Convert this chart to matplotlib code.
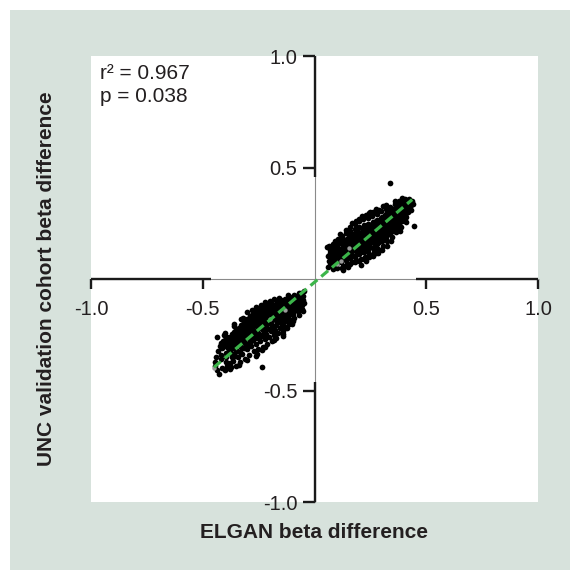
import matplotlib
matplotlib.use("Agg")
import matplotlib.pyplot as plt
from matplotlib.patches import Rectangle

plt.rcParams['font.family'] = ['Liberation Sans', 'DejaVu Sans']

# ---------------- data ----------------
upper_x = [
    0.062, 0.065, 0.061, 0.068, 0.064, 0.070, 0.072, 0.069, 0.058,
    0.082, 0.085, 0.079, 0.088, 0.084, 0.090, 0.087, 0.092, 0.081,
    0.100, 0.104, 0.098, 0.107, 0.102, 0.110, 0.112, 0.108, 0.105, 0.101,
    0.120, 0.123, 0.118, 0.127, 0.124, 0.130, 0.132, 0.128, 0.121, 0.133, 0.126,
    0.140, 0.143, 0.138, 0.147, 0.144, 0.150, 0.152, 0.148, 0.141, 0.153, 0.146, 0.155,
    0.160, 0.163, 0.158, 0.167, 0.164, 0.170, 0.172, 0.168, 0.161, 0.173, 0.166, 0.175, 0.159,
    0.180, 0.183, 0.178, 0.187, 0.184, 0.190, 0.192, 0.188, 0.181, 0.193, 0.186, 0.195, 0.179,
    0.200, 0.203, 0.198, 0.207, 0.204, 0.210, 0.212, 0.208, 0.201, 0.213, 0.206, 0.215, 0.199,
    0.220, 0.223, 0.218, 0.227, 0.224, 0.230, 0.232, 0.228, 0.221, 0.233, 0.226, 0.235, 0.219,
    0.240, 0.243, 0.238, 0.247, 0.244, 0.250, 0.252, 0.248, 0.241, 0.253, 0.246, 0.255, 0.239, 0.245,
    0.260, 0.263, 0.258, 0.267, 0.264, 0.270, 0.272, 0.268, 0.261, 0.273, 0.266, 0.275, 0.259,
    0.280, 0.283, 0.278, 0.287, 0.284, 0.290, 0.292, 0.288, 0.281, 0.293, 0.286, 0.295, 0.279,
    0.300, 0.303, 0.298, 0.307, 0.304, 0.310, 0.312, 0.308, 0.301, 0.313, 0.306, 0.315, 0.299,
    0.320, 0.323, 0.318, 0.327, 0.324, 0.330, 0.332, 0.328, 0.321, 0.333, 0.326, 0.335, 0.319,
    0.340, 0.343, 0.338, 0.347, 0.344, 0.350, 0.352, 0.348, 0.341, 0.353, 0.346, 0.355, 0.339,
    0.360, 0.363, 0.358, 0.367, 0.364, 0.370, 0.372, 0.368, 0.361, 0.373, 0.366, 0.375, 0.360,
    0.380, 0.383, 0.378, 0.387, 0.384, 0.390, 0.392, 0.388, 0.381, 0.393, 0.386, 0.395, 0.380,
    0.400, 0.403, 0.398, 0.407, 0.404, 0.410, 0.412, 0.408, 0.401, 0.413, 0.406,
    0.420, 0.423, 0.418, 0.427, 0.424, 0.430, 0.432, 0.428, 0.436, 0.440,
    0.337, 0.447, 0.206, 0.150, 0.230, 0.275,
    # in-between points of the dense core
    0.074, 0.077, 0.076, 0.095, 0.094, 0.097, 0.114, 0.116, 0.113,
    0.135, 0.134, 0.137, 0.156, 0.154, 0.157, 0.175, 0.176, 0.174,
    0.195, 0.196, 0.194, 0.216, 0.214, 0.217, 0.235, 0.236, 0.234,
    0.256, 0.254, 0.257, 0.275, 0.276, 0.274, 0.296, 0.294, 0.297,
    0.315, 0.316, 0.314, 0.336, 0.334, 0.337, 0.355, 0.356, 0.354,
    0.376, 0.374, 0.377, 0.395, 0.396, 0.394, 0.416, 0.414,
    # scattered edge points
    0.170, 0.200, 0.230, 0.262, 0.290, 0.322, 0.358, 0.390, 0.142, 0.112,
    0.140, 0.180, 0.222, 0.262, 0.302, 0.342, 0.382, 0.411, 0.121,
    0.186, 0.214, 0.248, 0.276, 0.308, 0.092, 0.128, 0.160, 0.198, 0.245, 0.285, 0.325,
]
upper_y = [
    0.055, 0.080, 0.105, 0.130, 0.150, 0.065, 0.095, 0.118, 0.142,
    0.060, 0.090, 0.112, 0.138, 0.158, 0.075, 0.102, 0.125, 0.045,
    0.070, 0.095, 0.118, 0.140, 0.165, 0.083, 0.108, 0.128, 0.180, 0.050,
    0.075, 0.100, 0.122, 0.148, 0.172, 0.090, 0.113, 0.135, 0.192, 0.160, 0.060,
    0.085, 0.110, 0.130, 0.155, 0.180, 0.100, 0.123, 0.142, 0.205, 0.168, 0.070, 0.192,
    0.095, 0.120, 0.140, 0.165, 0.190, 0.108, 0.132, 0.152, 0.215, 0.178, 0.078, 0.202, 0.235,
    0.100, 0.128, 0.150, 0.172, 0.198, 0.115, 0.140, 0.160, 0.225, 0.185, 0.085, 0.212, 0.248,
    0.110, 0.135, 0.158, 0.180, 0.205, 0.123, 0.148, 0.168, 0.232, 0.192, 0.090, 0.218, 0.258,
    0.120, 0.145, 0.165, 0.188, 0.212, 0.133, 0.157, 0.176, 0.240, 0.200, 0.100, 0.226, 0.268,
    0.130, 0.155, 0.175, 0.197, 0.220, 0.143, 0.167, 0.185, 0.246, 0.208, 0.112, 0.234, 0.275, 0.298,
    0.140, 0.165, 0.185, 0.206, 0.230, 0.153, 0.177, 0.195, 0.255, 0.218, 0.120, 0.244, 0.284,
    0.155, 0.178, 0.198, 0.218, 0.242, 0.167, 0.190, 0.208, 0.265, 0.230, 0.135, 0.256, 0.290,
    0.170, 0.193, 0.212, 0.232, 0.256, 0.182, 0.205, 0.222, 0.278, 0.244, 0.150, 0.268, 0.305,
    0.190, 0.210, 0.228, 0.248, 0.270, 0.200, 0.220, 0.238, 0.292, 0.258, 0.172, 0.280, 0.315,
    0.205, 0.226, 0.244, 0.262, 0.284, 0.216, 0.236, 0.253, 0.304, 0.272, 0.190, 0.293, 0.325,
    0.225, 0.245, 0.262, 0.280, 0.300, 0.235, 0.255, 0.270, 0.320, 0.290, 0.210, 0.310, 0.337,
    0.245, 0.265, 0.280, 0.298, 0.316, 0.258, 0.276, 0.290, 0.335, 0.306, 0.232, 0.325, 0.352,
    0.270, 0.288, 0.302, 0.318, 0.335, 0.280, 0.300, 0.312, 0.350, 0.325, 0.360,
    0.300, 0.318, 0.332, 0.345, 0.358, 0.310, 0.330, 0.340, 0.352, 0.335,
    0.430, 0.239, 0.063, 0.055, 0.080, 0.118,
    0.072, 0.100, 0.135, 0.088, 0.115, 0.150, 0.098, 0.128, 0.163,
    0.110, 0.140, 0.175, 0.122, 0.152, 0.187, 0.135, 0.165, 0.200,
    0.148, 0.178, 0.213, 0.160, 0.190, 0.225, 0.170, 0.200, 0.235,
    0.183, 0.213, 0.248, 0.195, 0.225, 0.260, 0.210, 0.240, 0.273,
    0.225, 0.255, 0.288, 0.240, 0.270, 0.302, 0.255, 0.285, 0.316,
    0.270, 0.300, 0.330, 0.285, 0.315, 0.342, 0.305, 0.335,
    0.250, 0.270, 0.285, 0.300, 0.310, 0.330, 0.350, 0.365, 0.220, 0.200,
    0.060, 0.075, 0.090, 0.105, 0.130, 0.170, 0.215, 0.255, 0.050,
    0.262, 0.282, 0.300, 0.312, 0.326, 0.172, 0.042, 0.068, 0.082, 0.098, 0.118, 0.150,
]

lower_x = [
    -0.048, -0.052, -0.050, -0.055, -0.058, -0.060, -0.062, -0.047, -0.053,
    -0.070, -0.073, -0.068, -0.077, -0.074, -0.080, -0.082, -0.078, -0.071, -0.079,
    -0.090, -0.093, -0.088, -0.097, -0.094, -0.100, -0.102, -0.098, -0.091, -0.099, -0.095,
    -0.110, -0.113, -0.108, -0.117, -0.114, -0.120, -0.122, -0.118, -0.111, -0.119, -0.115, -0.123,
    -0.130, -0.133, -0.128, -0.137, -0.134, -0.140, -0.142, -0.138, -0.131, -0.139, -0.135, -0.143,
    -0.150, -0.153, -0.148, -0.157, -0.154, -0.160, -0.162, -0.158, -0.151, -0.159, -0.155, -0.163,
    -0.170, -0.173, -0.168, -0.177, -0.174, -0.180, -0.182, -0.178, -0.171, -0.179, -0.175, -0.183, -0.172,
    -0.190, -0.193, -0.188, -0.197, -0.194, -0.200, -0.202, -0.198, -0.191, -0.199, -0.195, -0.203, -0.192,
    -0.210, -0.213, -0.208, -0.217, -0.214, -0.220, -0.222, -0.218, -0.211, -0.219, -0.215, -0.223, -0.212,
    -0.230, -0.233, -0.228, -0.237, -0.234, -0.240, -0.242, -0.238, -0.231, -0.239, -0.235, -0.243, -0.232, -0.236,
    -0.250, -0.253, -0.248, -0.257, -0.254, -0.260, -0.262, -0.258, -0.251, -0.259, -0.255, -0.263, -0.252, -0.256,
    -0.270, -0.273, -0.268, -0.277, -0.274, -0.280, -0.282, -0.278, -0.271, -0.279, -0.275, -0.283, -0.272,
    -0.290, -0.293, -0.288, -0.297, -0.294, -0.300, -0.302, -0.298, -0.291, -0.299, -0.295, -0.303, -0.292,
    -0.310, -0.313, -0.308, -0.317, -0.314, -0.320, -0.322, -0.318, -0.311, -0.319, -0.315, -0.323, -0.312,
    -0.330, -0.333, -0.328, -0.337, -0.334, -0.340, -0.342, -0.338, -0.331, -0.339, -0.335, -0.343, -0.332,
    -0.350, -0.353, -0.348, -0.357, -0.354, -0.360, -0.362, -0.358, -0.351, -0.359, -0.355, -0.363, -0.352,
    -0.370, -0.373, -0.368, -0.377, -0.374, -0.380, -0.382, -0.378, -0.371, -0.379, -0.375,
    -0.390, -0.393, -0.388, -0.397, -0.394, -0.400, -0.402, -0.398, -0.391, -0.399,
    -0.410, -0.415, -0.420, -0.418, -0.425, -0.430, -0.435, -0.440, -0.443, -0.428, -0.412, -0.445,
    -0.234,
    # in-between points of the dense core
    -0.065, -0.064, -0.066, -0.085, -0.086, -0.084, -0.105, -0.104, -0.106,
    -0.125, -0.126, -0.124, -0.145, -0.144, -0.146, -0.165, -0.166, -0.164,
    -0.185, -0.184, -0.186, -0.205, -0.206, -0.204, -0.225, -0.224, -0.226,
    -0.245, -0.246, -0.244, -0.265, -0.264, -0.266, -0.285, -0.286, -0.284,
    -0.305, -0.304, -0.306, -0.325, -0.326, -0.324, -0.345, -0.344, -0.346,
    -0.365, -0.366, -0.364, -0.385, -0.384,
    # scattered edge points
    -0.120, -0.160, -0.200, -0.240, -0.280, -0.320, -0.360, -0.400,
    -0.100, -0.140, -0.180, -0.220, -0.260, -0.300, -0.340, -0.380,
    -0.300, -0.330, -0.262, -0.362, -0.222, -0.182, -0.142, -0.420, -0.436, -0.405,
]
lower_y = [
    -0.055, -0.075, -0.095, -0.115, -0.135, -0.065, -0.088, -0.108, -0.145,
    -0.065, -0.085, -0.105, -0.125, -0.145, -0.075, -0.098, -0.118, -0.162, -0.138,
    -0.072, -0.095, -0.115, -0.135, -0.155, -0.085, -0.108, -0.128, -0.175, -0.148, -0.190,
    -0.080, -0.102, -0.122, -0.142, -0.162, -0.092, -0.115, -0.135, -0.182, -0.155, -0.200, -0.218,
    -0.088, -0.110, -0.130, -0.150, -0.170, -0.100, -0.122, -0.142, -0.190, -0.162, -0.210, -0.232,
    -0.095, -0.118, -0.138, -0.158, -0.178, -0.108, -0.130, -0.150, -0.198, -0.170, -0.218, -0.240,
    -0.102, -0.125, -0.145, -0.165, -0.185, -0.115, -0.138, -0.158, -0.205, -0.178, -0.228, -0.250, -0.265,
    -0.110, -0.133, -0.153, -0.173, -0.193, -0.122, -0.145, -0.165, -0.213, -0.185, -0.235, -0.258, -0.278,
    -0.115, -0.140, -0.160, -0.180, -0.200, -0.130, -0.152, -0.172, -0.222, -0.193, -0.245, -0.268, -0.290,
    -0.122, -0.148, -0.168, -0.188, -0.208, -0.138, -0.160, -0.180, -0.230, -0.200, -0.255, -0.280, -0.305, -0.320,
    -0.132, -0.158, -0.178, -0.198, -0.218, -0.148, -0.170, -0.190, -0.240, -0.210, -0.265, -0.290, -0.315, -0.338,
    -0.150, -0.172, -0.192, -0.212, -0.232, -0.162, -0.185, -0.205, -0.252, -0.222, -0.275, -0.300, -0.325,
    -0.168, -0.190, -0.210, -0.230, -0.250, -0.180, -0.200, -0.220, -0.268, -0.240, -0.290, -0.315, -0.340,
    -0.190, -0.210, -0.230, -0.250, -0.270, -0.200, -0.220, -0.240, -0.288, -0.260, -0.310, -0.335, -0.360,
    -0.205, -0.228, -0.248, -0.268, -0.288, -0.218, -0.240, -0.258, -0.305, -0.278, -0.328, -0.350, -0.372,
    -0.225, -0.248, -0.268, -0.288, -0.305, -0.238, -0.260, -0.278, -0.322, -0.295, -0.345, -0.368, -0.390,
    -0.245, -0.270, -0.290, -0.310, -0.330, -0.258, -0.280, -0.300, -0.350, -0.375, -0.395,
    -0.260, -0.290, -0.310, -0.330, -0.350, -0.275, -0.300, -0.370, -0.390, -0.410,
    -0.280, -0.310, -0.340, -0.360, -0.300, -0.325, -0.262, -0.350, -0.389, -0.426, -0.400, -0.370,
    -0.396,
    -0.080, -0.100, -0.125, -0.092, -0.115, -0.140, -0.105, -0.130, -0.158,
    -0.115, -0.140, -0.170, -0.128, -0.155, -0.185, -0.138, -0.165, -0.195,
    -0.150, -0.180, -0.210, -0.160, -0.190, -0.222, -0.175, -0.205, -0.238,
    -0.188, -0.220, -0.252, -0.205, -0.235, -0.265, -0.218, -0.250, -0.280,
    -0.235, -0.265, -0.295, -0.250, -0.280, -0.310, -0.265, -0.295, -0.325,
    -0.280, -0.310, -0.340, -0.300, -0.330,
    -0.070, -0.085, -0.100, -0.115, -0.140, -0.175, -0.210, -0.240,
    -0.200, -0.245, -0.275, -0.305, -0.345, -0.365, -0.385, -0.405,
    -0.150, -0.180, -0.125, -0.200, -0.105, -0.090, -0.255, -0.285, -0.410, -0.250,
]

gray_x = [0.100, 0.120, 0.155, -0.130, -0.200, -0.448]
gray_y = [0.068, 0.082, 0.140, -0.140, -0.180, -0.400]

fit_x = [-0.450, 0.437]
fit_y = [-0.396, 0.356]

tick_vals = [-1.0, -0.5, 0.5, 1.0]
tick_labels = ['-1.0', '-0.5', '0.5', '1.0']

r2_text = 'r\u00b2 = 0.967'
p_text = 'p = 0.038'
xlabel = 'ELGAN beta difference'
ylabel = 'UNC validation cohort beta difference'

# ---------------- figure ----------------
W = H = 570
fig = plt.figure(figsize=(5.7, 5.7), dpi=100, facecolor='white')
bg = '#d7e2dc'
fig.patches.append(Rectangle((10 / W, 0), 1 - 10 / W, 1 - 10 / H,
                             transform=fig.transFigure, facecolor=bg,
                             edgecolor='none', zorder=-5))

ax = fig.add_axes([91 / W, 1 - 502 / H, (538 - 91) / W, (502 - 56) / H])
ax.set_zorder(1)
ax.set_facecolor('white')
ax.set_xlim(-1, 1)
ax.set_ylim(-1, 1)

for s in ['top', 'right']:
    ax.spines[s].set_visible(False)
for s in ['left', 'bottom']:
    ax.spines[s].set_position('zero')
    ax.spines[s].set_color('#8a8a8a')
    ax.spines[s].set_linewidth(0.8)

# thick outer portions of the axis lines
axc = '#1a1a1a'
axlw = 1.7
ax.plot([-1, -0.465], [0, 0], color=axc, lw=axlw, solid_capstyle='butt', zorder=2.6)
ax.plot([0.452, 1], [0, 0], color=axc, lw=axlw, solid_capstyle='butt', zorder=2.6)
ax.plot([0, 0], [0.457, 1], color=axc, lw=axlw, solid_capstyle='butt', zorder=2.6)
ax.plot([0, 0], [-1, -0.46], color=axc, lw=axlw, solid_capstyle='butt', zorder=2.6)

ax.set_xticks(tick_vals)
ax.set_xticklabels(tick_labels)
ax.set_yticks(tick_vals)
ax.set_yticklabels(tick_labels)
ax.tick_params(axis='x', direction='out', length=7, width=axlw, color=axc,
               labelsize=14.5, pad=8, labelcolor='#231f20')
ax.tick_params(axis='y', direction='out', length=8.5, width=axlw, color=axc,
               labelsize=14.5, pad=4, labelcolor='#231f20')

ax.scatter(upper_x, upper_y, s=17, color='black', linewidths=0, zorder=3)
ax.scatter(lower_x, lower_y, s=17, color='black', linewidths=0, zorder=3)
ax.scatter(gray_x, gray_y, s=10, color='#9a9a9a', linewidths=0, zorder=3.5)

ax.plot(fit_x, fit_y, color='#3cb54a', lw=2.3, dashes=(2.8, 1.6), zorder=4)

fig.text(100 / W, 1 - 79 / H, r2_text, fontsize=15, color='#231f20',
         ha='left', va='baseline', zorder=5)
fig.text(100 / W, 1 - 102 / H, p_text, fontsize=15, color='#231f20',
         ha='left', va='baseline', zorder=5)

fig.text(314 / W, 1 - 533 / H, xlabel, fontsize=15, fontweight='bold',
         color='#231f20', ha='center', va='center')
fig.text(47 / W, 1 - 279 / H, ylabel, fontsize=15, fontweight='bold',
         color='#231f20', ha='center', va='center', rotation=90)

fig.savefig('out.png', dpi=100, facecolor='white')
